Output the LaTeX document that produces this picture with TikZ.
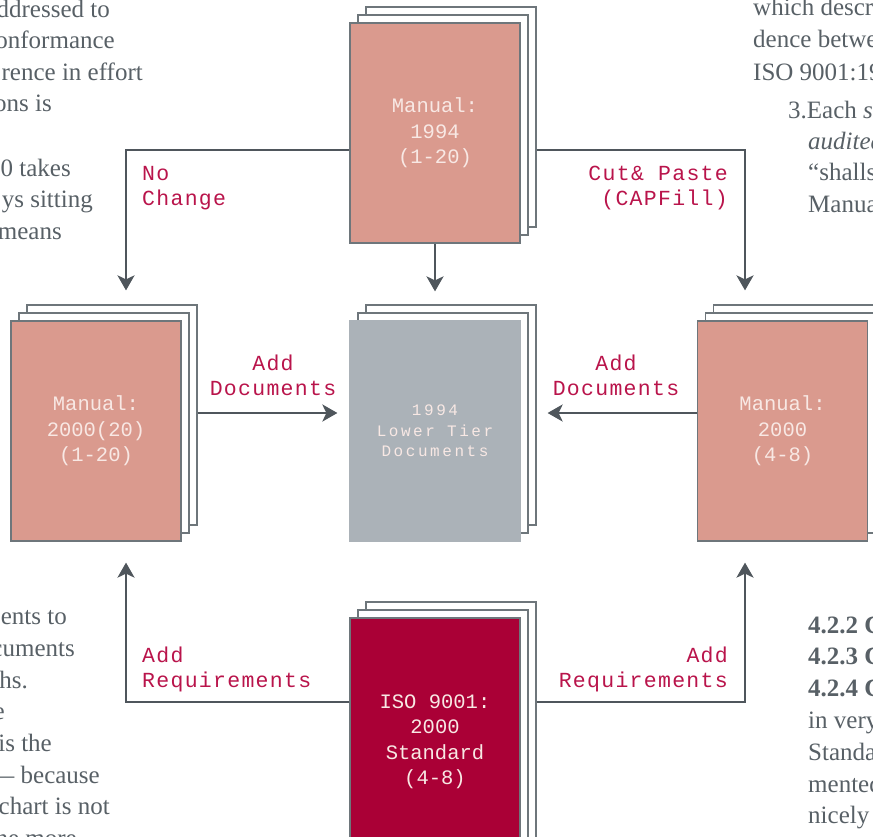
\documentclass[tikz,border=0pt]{standalone}
\usepackage{fontspec}
\setmainfont{Liberation Serif}
\newfontfamily\docmono{Liberation Mono}
\newfontfamily\tagmono[LetterSpace=6]{Liberation Mono}
\newfontfamily\widemono[LetterSpace=16]{Liberation Mono}
\usetikzlibrary{arrows.meta, shadows}

\definecolor{salmon}{RGB}{218,154,142}
\definecolor{crimson}{RGB}{170,0,54}
\definecolor{slate}{RGB}{171,178,184}
\definecolor{wire}{RGB}{79,86,92}
\definecolor{sheetline}{RGB}{110,118,123}
\definecolor{labelred}{RGB}{185,20,75}
\definecolor{bodygray}{RGB}{88,96,102}
\definecolor{cardtext}{RGB}{248,232,228}

\tikzset{
  stack/.style={rectangle, minimum width=170pt, minimum height=220pt, inner sep=0pt,
    draw=sheetline, line width=1.2pt, text=cardtext, align=center,
    font=\docmono\fontsize{20.5}{25.5}\selectfont,
    general shadow={shadow xshift=16pt, shadow yshift=16pt, fill=white, draw=sheetline, line width=1.6pt},
    general shadow={shadow xshift=8pt, shadow yshift=8pt, fill=white, draw=sheetline, line width=1.6pt}},
  flow/.style={draw=wire, line width=2.6pt, -{Stealth[length=15pt, width=17pt, inset=4pt]}},
  tag/.style={text=labelred, inner sep=0pt, font=\tagmono\fontsize{21.5}{25}\selectfont},
  prose/.style={text=bodygray, inner sep=0pt, font=\fontsize{25}{31}\selectfont}
}

\begin{document}
\begin{tikzpicture}[x=1pt, y=-1pt]
	\clip (0,0) rectangle (873,837);

	% Document stacks
	\node[stack, fill=salmon] (man94) at (435,133) {Manual:\\1994\\(1-20)};
	\node[stack, fill=salmon] (man20) at (96,431) {Manual:\\2000(20)\\(1-20)};
	\node[stack, fill=slate, draw=slate, font=\widemono\fontsize{16}{20.5}\selectfont] (lower) at (435,431) {1994\\Lower Tier\\Documents};
	\node[stack, fill=salmon] (man2k) at (782.5,431) {Manual:\\2000\\(4-8)};
	\node[stack, fill=crimson, minimum height=248pt] (iso) at (435,742) {ISO 9001:\\2000\\Standard\\(4-8)};

	% Connectors
	\draw[flow] ([yshift=-17pt]man94.west) -| ([xshift=30pt,yshift=30pt]man20.north);
	\draw[flow] (man94.south) -- ([yshift=29pt]lower.north);
	\draw[flow] ([xshift=16pt,yshift=-17pt]man94.east) -| ([xshift=-37.5pt,yshift=30pt]man2k.north);
	\draw[flow] ([xshift=16pt,yshift=18pt]man20.east) -- ([xshift=-12pt,yshift=18pt]lower.west);
	\draw[flow] ([yshift=18pt]man2k.west) -- ([xshift=27pt,yshift=18pt]lower.east);
	\draw[flow] ([yshift=40pt]iso.west) -| ([xshift=30pt,yshift=-21pt]man20.south);
	\draw[flow] ([xshift=16pt,yshift=40pt]iso.east) -| ([xshift=-37.5pt,yshift=-21pt]man2k.south);

	% Connector labels
	\node[tag, anchor=west, align=left] (nochange) at (142,188.5) {No\\Change};
	\node[tag, anchor=east, align=right] (cutpaste) at (728,188.5) {Cut\& Paste\\(CAPFill)};
	\node[tag, align=center] (adddocl) at (273,375) {Add\\Documents};
	\node[tag, align=center] (adddocr) at (616,375) {Add\\Documents};
	\node[tag, anchor=west, align=left] (addreql) at (142,669.5) {Add\\Requirements};
	\node[tag, anchor=east, align=right] (addreqr) at (728,669.5) {Add\\Requirements};

	% Surrounding page text, left
	\node[prose, anchor=base east] (lt1) at (110,18) {ddressed to};
	\node[prose, anchor=base east] (lt2) at (115,49) {onformance};
	\node[prose, anchor=base east] (lt3) at (143,81) {rence in effort};
	\node[prose, anchor=base east] (lt4) at (52,112) {ons is};
	\node[prose, anchor=base east] (lt5) at (71,177) {0 takes};
	\node[prose, anchor=base east] (lt6) at (93,208) {ys sitting};
	\node[prose, anchor=base east] (lt7) at (62,240) {means};
	\node[prose, anchor=base east] (lb1) at (67,624) {ents to};
	\node[prose, anchor=base east] (lb2) at (75,656) {cuments};
	\node[prose, anchor=base east] (lb3) at (28,688) {hs.};
	\node[prose, anchor=base east] (lb4) at (5,719) {e};
	\node[prose, anchor=base east] (lb5) at (52,751) {is the};
	\node[prose, anchor=base east] (lb6) at (100,783) {--- because};
	\node[prose, anchor=base east] (lb7) at (110,814) {chart is not};
	\node[prose, anchor=base east] (lb8) at (77,846) {ne more};

	% Surrounding page text, right
	\node[prose, anchor=base west] (rt1) at (753,16) {which descri};
	\node[prose, anchor=base west] (rt2) at (753,48) {dence betwee};
	\node[prose, anchor=base west] (rt3) at (753,81) {ISO 9001:19};
	\node[prose, anchor=base west] (rt4) at (788,119) {3.Each \textit{s}};
	\node[prose, anchor=base west] (rt5) at (808,150) {\textit{audited}};
	\node[prose, anchor=base west] (rt6) at (808,181) {``shalls''};
	\node[prose, anchor=base west] (rt7) at (808,213) {Manual};
	\node[prose, anchor=base west] (rb1) at (808,633) {\textbf{4.2.2 C}};
	\node[prose, anchor=base west] (rb2) at (808,664) {\textbf{4.2.3 C}};
	\node[prose, anchor=base west] (rb3) at (808,696) {\textbf{4.2.4 C}};
	\node[prose, anchor=base west] (rb4) at (808,728) {in very};
	\node[prose, anchor=base west] (rb5) at (808,760) {Standard};
	\node[prose, anchor=base west] (rb6) at (808,792) {mented};
	\node[prose, anchor=base west] (rb7) at (808,823) {nicely};
\end{tikzpicture}
\end{document}
